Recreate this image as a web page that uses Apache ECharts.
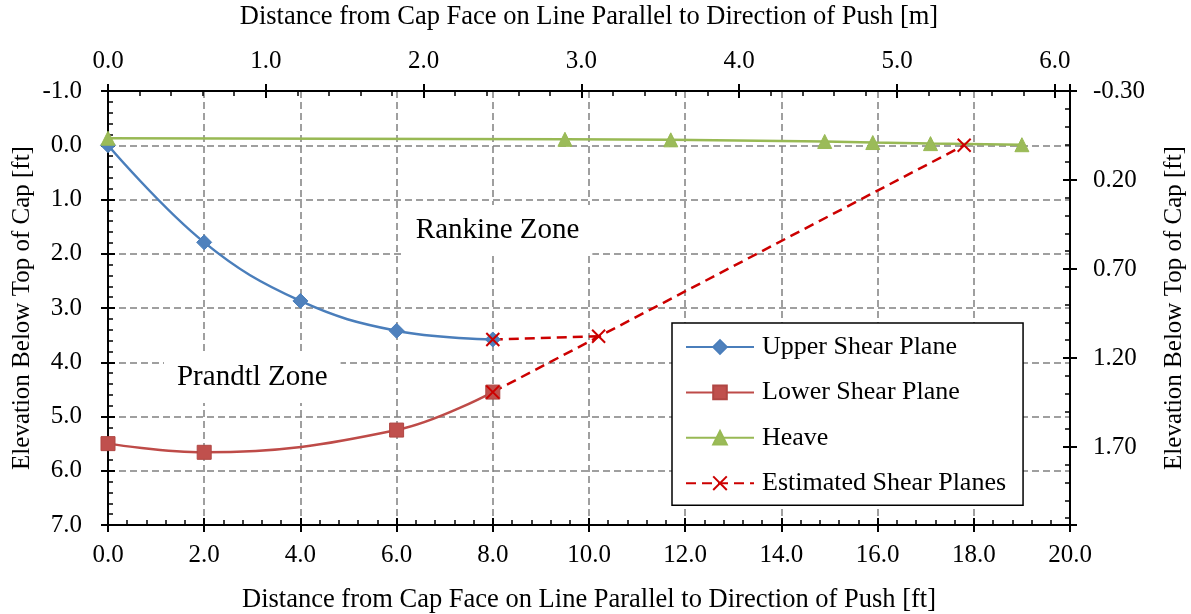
<!DOCTYPE html>
<html>
<head>
<meta charset="utf-8">
<script src="https://cdn.jsdelivr.net/npm/echarts@6/dist/echarts.min.js"></script>
<style>
  html, body { margin: 0; padding: 0; background: #fff; }
  #chart { width: 1191px; height: 614px; }
</style>
</head>
<body>
<div id="chart"></div>
<script>
// Shear plane geometry behind the pile cap (distances and depths in feet)
const upperX = [0, 2, 4, 6, 8];
const upperY = [0.00, 1.79, 2.87, 3.42, 3.58];

const lowerX = [0, 2, 6, 8];
const lowerY = [5.50, 5.66, 5.25, 4.55];

const heaveX = [0, 9.5, 11.7, 14.9, 15.9, 17.1, 19.0];
const heaveY = [-0.13, -0.11, -0.10, -0.07, -0.05, -0.03, -0.01];

// two estimated segments, separated by a gap (null)
const estX = [8, 10.2, null, 8, 17.8];
const estY = [3.58, 3.52, null, 4.55, 0.00];

const seriesNames = ['Upper Shear Plane', 'Lower Shear Plane', 'Heave', 'Estimated Shear Planes'];

const zoneNames = ['Rankine Zone', 'Prandtl Zone'];
const zoneX = [8.1, 3.0];
const zoneY = [1.57, 4.28];

// Axis ranges
const xFt = [0, 20];
const yFt = [-1, 7];
const M_PER_FT = 0.3048;

const FONT = '"Liberation Serif", "Times New Roman", serif';
const BLACK = '#000';

const pairs = (xs, ys) => xs.map((x, i) => (x === null ? ['-', '-'] : [x, ys[i]]));
const onStep = (v, step) => Math.abs(v / step - Math.round(v / step)) < 1e-6;

const labelStyle = { fontFamily: FONT, fontSize: 25, color: BLACK };
const nameStyleH = { fontFamily: FONT, fontSize: 26.5, color: BLACK };
const nameStyleV = { fontFamily: FONT, fontSize: 25, color: BLACK };
const axisLineStyle = { show: true, onZero: false, lineStyle: { color: BLACK, width: 2 } };
const tickLine = { color: BLACK, width: 2 };
const gridLine = { show: true, showMinLine: false, showMaxLine: false,
  lineStyle: { color: '#808080', width: 1.5, type: [7, 4] } };

// Companion axis drawing the inward half of the major ticks plus minor ticks
function innerTicks(base) {
  return Object.assign({}, base, {
    name: '', axisLine: { show: false, onZero: false }, axisLabel: { show: false },
    axisTick: { show: true, inside: true, length: 7, lineStyle: tickLine },
    minorTick: { show: true, splitNumber: 5, length: 5, lineStyle: { color: BLACK, width: 1.5 } },
    splitLine: { show: false }
  });
}

const xFeet = { type: 'value', position: 'bottom', min: xFt[0], max: xFt[1], interval: 2 };
const xMetre = { type: 'value', position: 'top', min: xFt[0] * M_PER_FT, max: xFt[1] * M_PER_FT, interval: 1 };
const yFeet = { type: 'value', position: 'left', inverse: true, min: yFt[0], max: yFt[1], interval: 1 };
// metres axis measured from its upper edge so that ticks start at -0.30 m
const yMetre = { type: 'value', position: 'right', inverse: true, min: 0,
  max: (yFt[1] - yFt[0]) * M_PER_FT, interval: 0.5 };
const yMetreOrigin = yFt[0] * M_PER_FT;

const option = {
  animation: false,
  backgroundColor: '#fff',
  grid: { left: 108, right: 121, top: 91, bottom: 89, containLabel: false, outerBoundsMode: 'none' },
  xAxis: [
    Object.assign({}, xFeet, {
      name: 'Distance from Cap Face on Line Parallel to Direction of Push [ft]',
      nameLocation: 'middle', nameGap: 62, nameTextStyle: nameStyleH,
      axisLine: axisLineStyle,
      axisTick: { show: true, inside: false, length: 7, lineStyle: tickLine },
      axisLabel: Object.assign({ margin: 18, formatter: v => v.toFixed(1) }, labelStyle),
      splitLine: gridLine
    }),
    innerTicks(xFeet),
    Object.assign({}, xMetre, {
      name: 'Distance from Cap Face on Line Parallel to Direction of Push [m]',
      nameLocation: 'middle', nameGap: 60, nameTextStyle: nameStyleH,
      axisLine: axisLineStyle,
      axisTick: { show: true, inside: false, length: 7, lineStyle: tickLine },
      axisLabel: Object.assign({ margin: 17, formatter: v => onStep(v, 1) ? v.toFixed(1) : '' }, labelStyle),
      splitLine: { show: false }
    }),
    innerTicks(xMetre)
  ],
  yAxis: [
    Object.assign({}, yFeet, {
      name: 'Elevation Below Top of Cap [ft]',
      nameLocation: 'middle', nameGap: 73, nameMoveOverlap: false, nameTextStyle: nameStyleV,
      axisLine: axisLineStyle,
      axisTick: { show: true, inside: false, length: 7, lineStyle: tickLine },
      axisLabel: Object.assign({ margin: 26, formatter: v => v.toFixed(1) }, labelStyle),
      splitLine: gridLine
    }),
    innerTicks(yFeet),
    Object.assign({}, yMetre, {
      name: 'Elevation Below Top of Cap [ft]',
      nameLocation: 'middle', nameGap: 92, nameMoveOverlap: false, nameTextStyle: nameStyleV,
      axisLine: axisLineStyle,
      axisTick: { show: true, inside: false, length: 7, lineStyle: tickLine },
      axisLabel: Object.assign({ margin: 23, align: 'left',
        formatter: v => onStep(v, 0.5) ? (v + yMetreOrigin).toFixed(2) : '' }, labelStyle),
      splitLine: { show: false }
    }),
    innerTicks(yMetre)
  ],
  legend: {
    orient: 'vertical', left: 672, top: 323,
    padding: [9, 17, 7, 13], itemGap: 15.4, itemWidth: 68, itemHeight: 17,
    backgroundColor: '#fff', borderColor: BLACK, borderWidth: 1.5, borderRadius: 0,
    textStyle: { fontFamily: FONT, fontSize: 26, color: BLACK, lineHeight: 30, padding: [0, 0, 0, 3] },
    selectedMode: false,
    data: seriesNames
  },
  series: [
    {
      name: seriesNames[0], type: 'line', data: pairs(upperX, upperY), smooth: 0.4,
      symbol: 'diamond', symbolSize: 15,
      lineStyle: { color: '#4A7EBB', width: 2.5 },
      itemStyle: { color: '#4F81BD', borderColor: '#4A7EBB', borderWidth: 1 }
    },
    {
      name: seriesNames[1], type: 'line', data: pairs(lowerX, lowerY), smooth: 0.4,
      symbol: 'rect', symbolSize: 14,
      lineStyle: { color: '#BE4B48', width: 2.5 },
      itemStyle: { color: '#C0504D', borderColor: '#B04643', borderWidth: 1 }
    },
    {
      name: seriesNames[2], type: 'line', data: pairs(heaveX, heaveY),
      symbol: 'triangle', symbolSize: 14,
      lineStyle: { color: '#98B954', width: 2.5 },
      itemStyle: { color: '#9BBB59', borderColor: '#98B954', borderWidth: 1 }
    },
    {
      name: seriesNames[3], type: 'line', data: pairs(estX, estY), connectNulls: false,
      symbol: 'path://M0,0L10,10M0,10L10,0', symbolSize: 13,
      lineStyle: { color: '#CC0000', width: 2.5, type: [10, 6] },
      itemStyle: { color: '#CC0000', borderColor: '#CC0000', borderWidth: 2 }
    }
  ]
};

const chart = echarts.init(document.getElementById('chart'), null, { renderer: 'canvas' });
chart.setOption(option);

// Zone captions, anchored in data coordinates, on a white box over the grid
const zonePx = zoneNames.map((n, i) =>
  chart.convertToPixel({ xAxisIndex: 0, yAxisIndex: 0 }, [zoneX[i], zoneY[i]]));
chart.setOption({
  graphic: zoneNames.map((n, i) => ({
    type: 'text', x: zonePx[i][0], y: zonePx[i][1], z: 3, silent: true,
    style: {
      text: n, font: '29px ' + FONT, fill: BLACK,
      align: 'center', verticalAlign: 'middle',
      backgroundColor: '#fff', padding: [11, 13]
    }
  }))
});
</script>
</body>
</html>
